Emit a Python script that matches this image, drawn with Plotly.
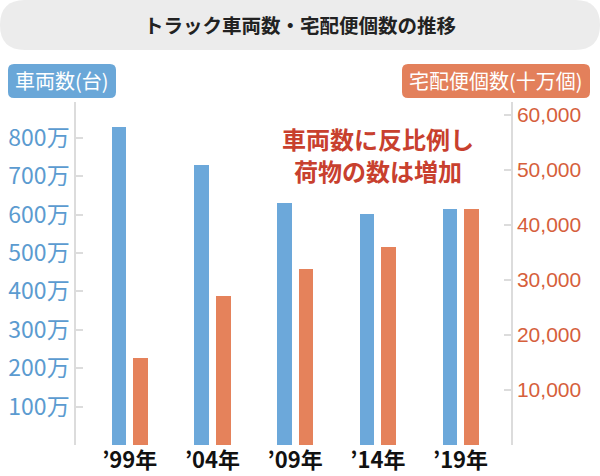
import plotly.graph_objects as go

years = ["’99年", "’04年", "’09年", "’14年", "’19年"]
trucks_man = [829, 729, 629, 602, 614]          # 車両数（万台）
parcels = [15900, 27000, 32000, 36000, 42900]   # 宅配便個数（十万個）
left_ticks = [100, 200, 300, 400, 500, 600, 700, 800]
left_tick_text = [f"{v}万" for v in left_ticks]
right_ticks = [10000, 20000, 30000, 40000, 50000, 60000]
right_tick_text = [f"{v:,}" for v in right_ticks]

W, H = 600, 476
ML, MR, MT, MB = 76, 89, 102, 31
PW, PH = W - ML - MR, H - MT - MB
FONT = "Noto Sans CJK JP"

def px(x):
    return (x - ML) / PW

def py(y):
    return (H - MB - y) / PH

def rounded(x0, y0, x1, y1, r):
    pts = [
        ("M", [(x0 + r, y0)]),
        ("L", [(x1 - r, y0)]),
        ("Q", [(x1, y0), (x1, y0 + r)]),
        ("L", [(x1, y1 - r)]),
        ("Q", [(x1, y1), (x1 - r, y1)]),
        ("L", [(x0 + r, y1)]),
        ("Q", [(x0, y1), (x0, y1 - r)]),
        ("L", [(x0, y0 + r)]),
        ("Q", [(x0, y0), (x0 + r, y0)]),
    ]
    s = ""
    for cmd, ps in pts:
        s += cmd + " " + " ".join(f"{px(a):.5f},{py(b):.5f}" for a, b in ps) + " "
    return s + "Z"

xs = list(range(len(years)))
fig = go.Figure()
fig.add_trace(go.Bar(x=xs, y=trucks_man, width=0.175, offset=-0.218,
                     marker=dict(color="#6ca8da", line=dict(width=0)),
                     yaxis="y", showlegend=False))
fig.add_trace(go.Bar(x=xs, y=parcels, width=0.175, offset=0.044,
                     marker=dict(color="#e5825b", line=dict(width=0)),
                     yaxis="y2", showlegend=False))

shapes = [
    dict(type="path", xref="paper", yref="paper", path=rounded(0, 0, 600, 50, 25),
         fillcolor="#ececec", line=dict(width=0), layer="below"),
    dict(type="path", xref="paper", yref="paper", path=rounded(8, 64, 116, 98, 6),
         fillcolor="#6aa7d8", line=dict(width=0)),
    dict(type="path", xref="paper", yref="paper", path=rounded(402, 64, 590, 98, 6),
         fillcolor="#e3805b", line=dict(width=0)),
]

annotations = [
    dict(text="<b>トラック車両数・宅配便個数の推移</b>", x=px(300), y=py(25), xref="paper", yref="paper",
         showarrow=False, font=dict(size=19.5, color="#222222", family=FONT), xanchor="center", yanchor="middle"),
    dict(text="車両数(台)", x=px(62), y=py(81), xref="paper", yref="paper",
         showarrow=False, font=dict(size=20, color="white", family=FONT), xanchor="center", yanchor="middle"),
    dict(text="宅配便個数(十万個)", x=px(496), y=py(81), xref="paper", yref="paper",
         showarrow=False, font=dict(size=20, color="white", family=FONT), xanchor="center", yanchor="middle"),
    dict(text="<b>車両数に反比例し</b>", x=px(378), y=py(138), xref="paper", yref="paper",
         showarrow=False, font=dict(size=24, color="#c8402e", family=FONT), xanchor="center", yanchor="middle"),
    dict(text="<b>荷物の数は増加</b>", x=px(378), y=py(170), xref="paper", yref="paper",
         showarrow=False, font=dict(size=24, color="#c8402e", family=FONT), xanchor="center", yanchor="middle"),
]

fig.update_layout(
    width=W, height=H,
    margin=dict(l=ML, r=MR, t=MT, b=MB, pad=0, autoexpand=False),
    paper_bgcolor="white", plot_bgcolor="white",
    font=dict(family=FONT),
    shapes=shapes, annotations=annotations,
    xaxis=dict(range=[-0.65, 4.61], tickvals=xs, ticktext=[f"<b>{t}</b>" for t in years],
               showgrid=False, zeroline=False, automargin=False,
               showline=False, ticks="", tickfont=dict(size=22, color="#111111", family=FONT),
               fixedrange=True),
    yaxis=dict(range=[0, 893], tickvals=left_ticks, ticktext=left_tick_text, showgrid=False, zeroline=False,
               automargin=False,
               showline=True, linecolor="#dcdcdc", linewidth=1.5, ticks="inside", ticklen=7,
               tickcolor="#dcdcdc", tickwidth=1.5,
               tickfont=dict(size=23, color="#5b9bd0", family=FONT)),
    yaxis2=dict(range=[0, 62360], tickvals=right_ticks, ticktext=right_tick_text, overlaying="y",
                side="right", showgrid=False, zeroline=False, showline=True, linecolor="#dcdcdc",
                automargin=False,
                linewidth=1.5, ticks="inside", ticklen=7, tickcolor="#dcdcdc", tickwidth=1.5,
                tickfont=dict(size=21, color="#d65f3c", family="Liberation Sans")),
    bargap=0,
)

fig.write_html("out.html", config={"displayModeBar": False},
               post_script="document.body.style.margin='0';document.body.style.padding='0';")
